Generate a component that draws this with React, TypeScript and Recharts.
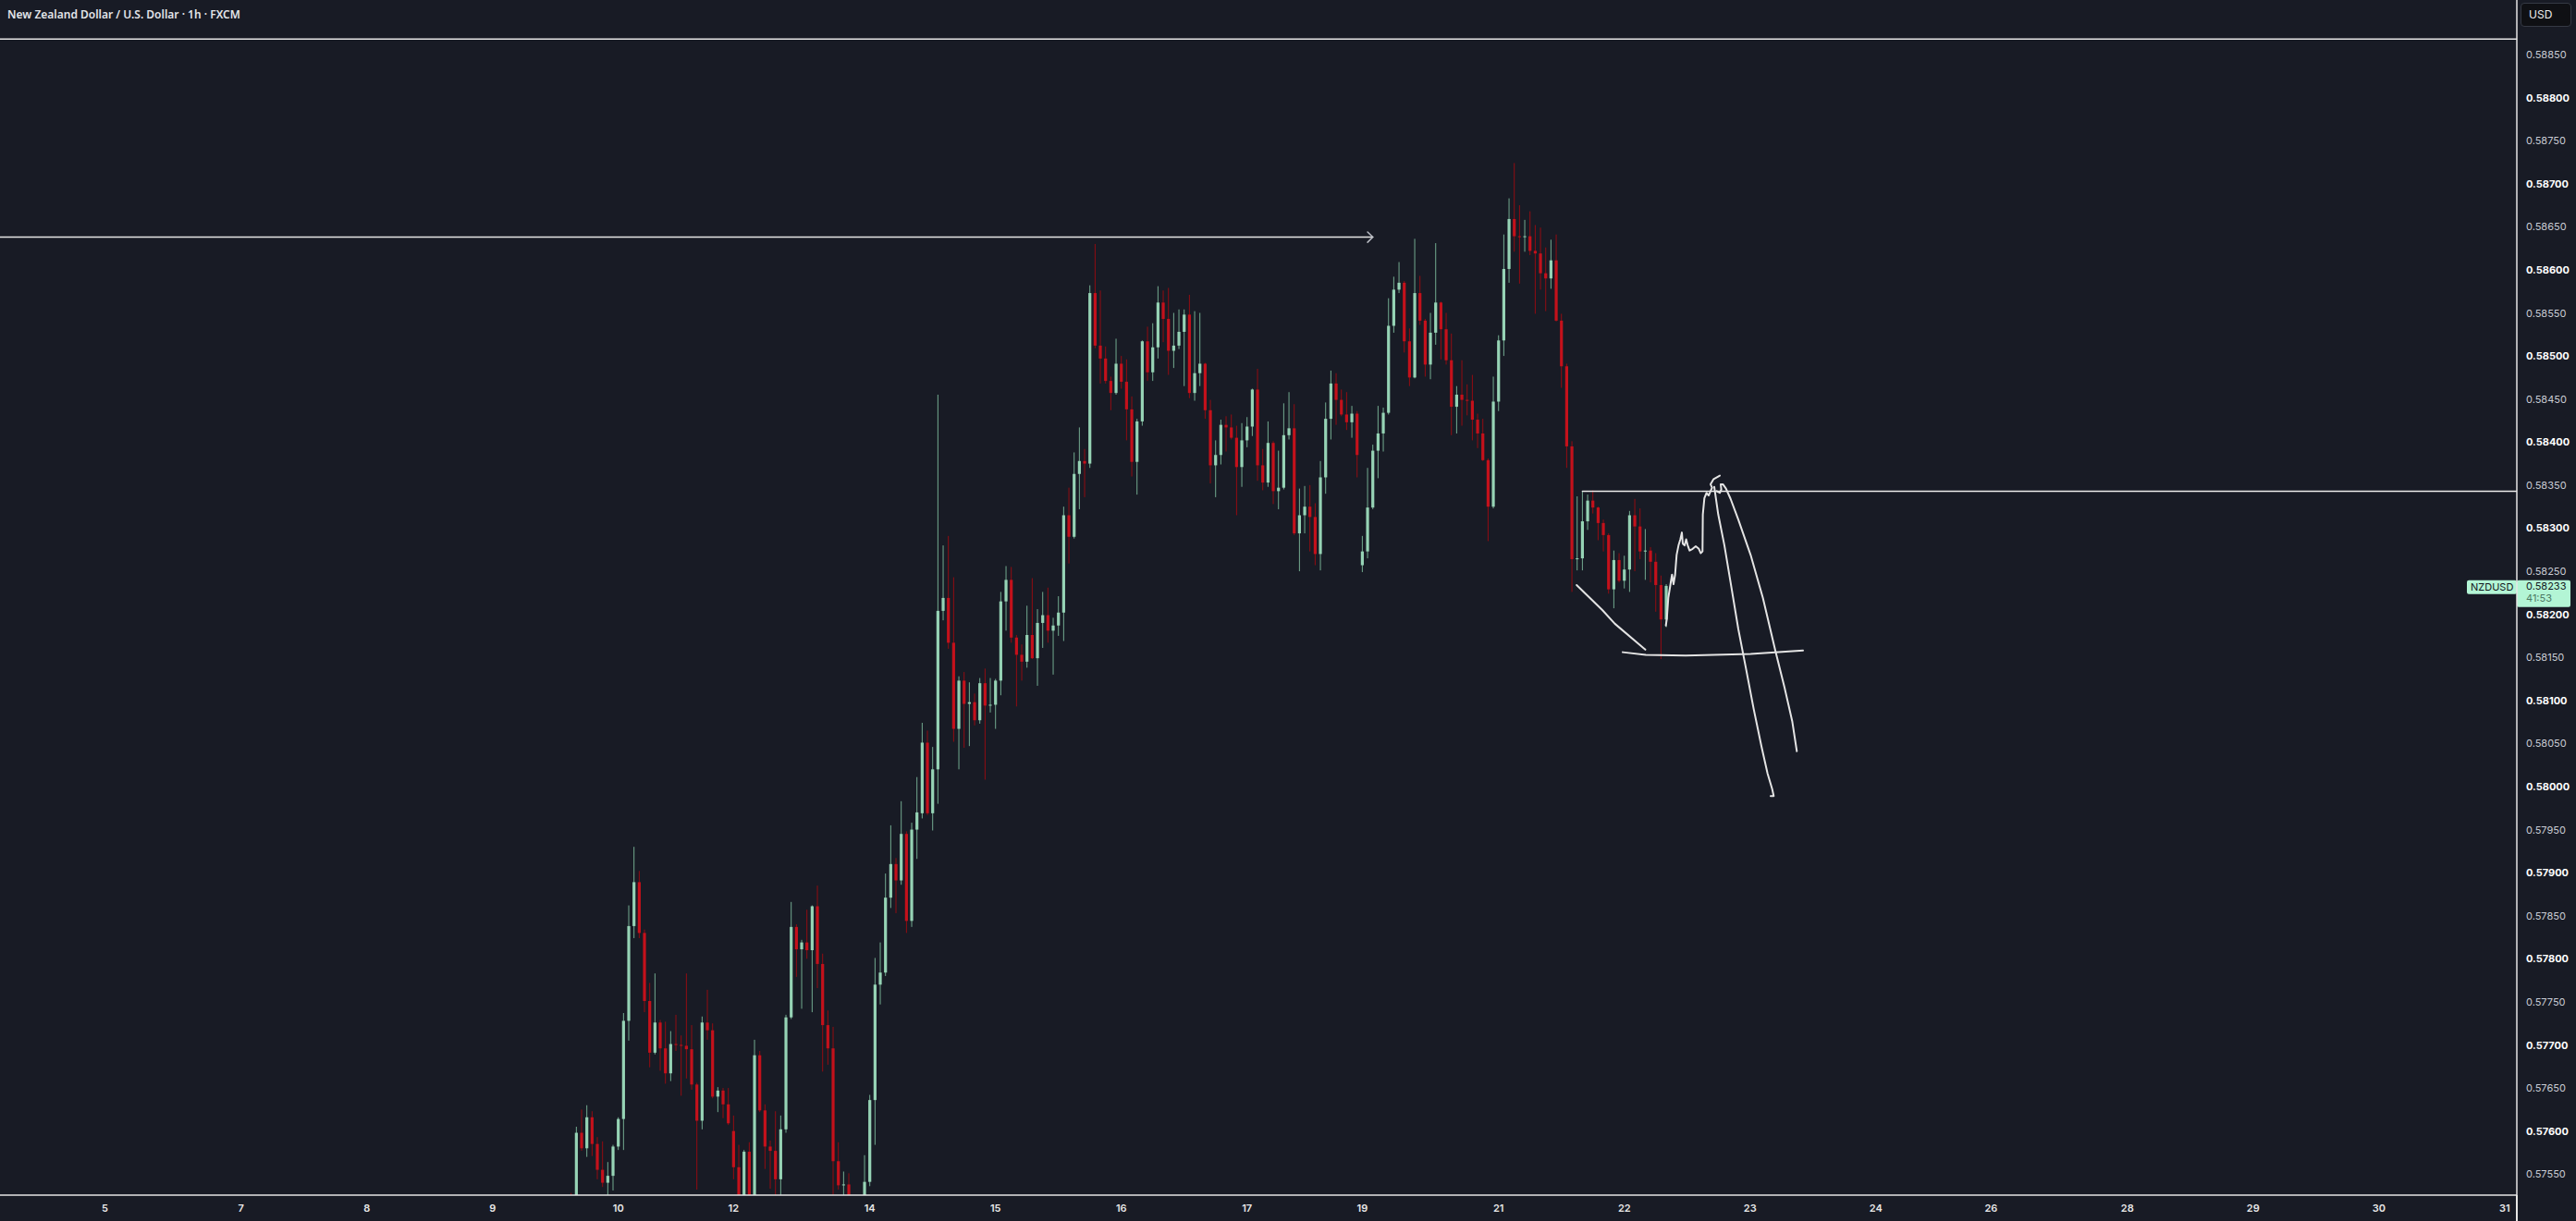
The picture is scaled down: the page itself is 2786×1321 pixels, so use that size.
import { ComposedChart, Bar, Line, XAxis, YAxis, ReferenceLine } from "recharts";

// NZDUSD 1h candles, first visible bar index (bar slot counted from the left edge)
const firstBar = 109;

const opens = [
  0.57522, 0.57505, 0.57598, 0.5758, 0.57616, 0.57585, 0.57555, 0.5754, 0.57548, 0.57582,
  0.57614, 0.57728, 0.57838, 0.57889, 0.5783, 0.57751, 0.57691, 0.57726, 0.57696, 0.57667,
  0.57701, 0.577, 0.57699, 0.57695, 0.57654, 0.57612, 0.57726, 0.57717, 0.5764, 0.57647,
  0.57631, 0.576, 0.57558, 0.57505, 0.57576, 0.57512, 0.57688, 0.57624, 0.57582, 0.57577,
  0.57544, 0.57602, 0.57732, 0.57837, 0.57811, 0.57819, 0.5781, 0.57861, 0.57794, 0.57723,
  0.57696, 0.57565, 0.57537, 0.57538, 0.57495, 0.57465, 0.57505, 0.57541, 0.57636, 0.5777,
  0.57784, 0.57871, 0.5791, 0.57891, 0.57945, 0.57844, 0.5795, 0.57969, 0.58051, 0.57969,
  0.5802, 0.58204, 0.58219, 0.58167, 0.58067, 0.58123, 0.58096, 0.58098, 0.58077, 0.5812,
  0.58094, 0.58095, 0.58123, 0.58215, 0.5824, 0.58173, 0.58153, 0.58145, 0.58176, 0.58149,
  0.5819, 0.58199, 0.58181, 0.58187, 0.58202, 0.58315, 0.5829, 0.58363, 0.58378, 0.58375,
  0.58573, 0.58512, 0.58497, 0.58471, 0.58457, 0.58491, 0.5847, 0.58438, 0.58377, 0.58424,
  0.58517, 0.58481, 0.5851, 0.58562, 0.58543, 0.58506, 0.58512, 0.58528, 0.58548, 0.58457,
  0.5848, 0.58491, 0.58437, 0.58373, 0.58385, 0.5842, 0.58417, 0.58405, 0.58371, 0.58402,
  0.58418, 0.58461, 0.58373, 0.58353, 0.58399, 0.58343, 0.58347, 0.58408, 0.58416, 0.58294,
  0.58315, 0.58325, 0.58313, 0.5827, 0.58359, 0.58427, 0.58468, 0.58449, 0.58432, 0.58423,
  0.58433, 0.58257, 0.58273, 0.58324, 0.5839, 0.5841, 0.58434, 0.58535, 0.58577, 0.58585,
  0.58517, 0.58475, 0.58573, 0.58541, 0.5849, 0.58527, 0.58562, 0.58531, 0.58495, 0.58441,
  0.58455, 0.58449, 0.58448, 0.58426, 0.5841, 0.58379, 0.58325, 0.58447, 0.58518, 0.58601,
  0.58659, 0.58639, 0.58638, 0.58639, 0.58622, 0.58619, 0.58596, 0.5859, 0.58611, 0.58541,
  0.58488, 0.58395, 0.58264, 0.58265, 0.58308, 0.58332, 0.58324, 0.58306, 0.58292, 0.58229,
  0.58263, 0.58239, 0.58252, 0.58315, 0.58302, 0.58273, 0.58274, 0.58261, 0.58234, 0.58194,
];

const highs = [
  0.57528, 0.57605, 0.57625, 0.5763, 0.57623, 0.57593, 0.57588, 0.57564, 0.57584, 0.57616,
  0.57737, 0.57862, 0.5793, 0.57902, 0.57834, 0.57772, 0.57783, 0.57729, 0.57727, 0.57716,
  0.57735, 0.57711, 0.57783, 0.57723, 0.57656, 0.57733, 0.57764, 0.57725, 0.57651, 0.5765,
  0.5765, 0.57618, 0.57584, 0.57578, 0.57587, 0.57706, 0.57693, 0.57631, 0.57589, 0.57623,
  0.57618, 0.57735, 0.57866, 0.5784, 0.57822, 0.57857, 0.57862, 0.57885, 0.57806, 0.5774,
  0.57721, 0.57587, 0.57553, 0.57551, 0.5751, 0.57512, 0.57572, 0.57642, 0.57801, 0.57819,
  0.57899, 0.57955, 0.57917, 0.57983, 0.57948, 0.57958, 0.58011, 0.58074, 0.58065, 0.58046,
  0.58455, 0.5828, 0.58291, 0.58243, 0.58128, 0.58133, 0.58121, 0.58108, 0.58126, 0.58137,
  0.58126, 0.58125, 0.58226, 0.58256, 0.58255, 0.58176, 0.58165, 0.5821, 0.58242, 0.58206,
  0.58226, 0.58231, 0.58196, 0.58221, 0.58325, 0.58347, 0.58388, 0.58417, 0.58392, 0.58582,
  0.5863, 0.58576, 0.58511, 0.58476, 0.5852, 0.585, 0.58496, 0.58453, 0.58427, 0.58518,
  0.58534, 0.58538, 0.58581, 0.58576, 0.58579, 0.5855, 0.58554, 0.58554, 0.58571, 0.58552,
  0.5855, 0.58492, 0.58449, 0.58402, 0.58426, 0.5843, 0.58432, 0.58419, 0.58422, 0.58429,
  0.58462, 0.58485, 0.58392, 0.58424, 0.58401, 0.5839, 0.58445, 0.58458, 0.58444, 0.58346,
  0.58349, 0.5835, 0.58329, 0.58378, 0.58446, 0.58483, 0.5848, 0.58461, 0.58458, 0.58442,
  0.58436, 0.58291, 0.5837, 0.58397, 0.58442, 0.5844, 0.58567, 0.58592, 0.58609, 0.58587,
  0.58532, 0.58636, 0.58593, 0.58543, 0.5855, 0.58631, 0.58563, 0.5855, 0.58526, 0.58465,
  0.58495, 0.58467, 0.58478, 0.58433, 0.58427, 0.58381, 0.58476, 0.58524, 0.58641, 0.58683,
  0.58724, 0.58675, 0.58658, 0.58668, 0.58652, 0.58649, 0.58626, 0.58635, 0.58641, 0.58549,
  0.58491, 0.58401, 0.58337, 0.58343, 0.58339, 0.58344, 0.58325, 0.5831, 0.58294, 0.58274,
  0.58271, 0.58268, 0.5832, 0.58334, 0.58323, 0.58299, 0.58278, 0.58271, 0.58245, 0.58235,
];

const lows = [
  0.57495, 0.5749, 0.57577, 0.5757, 0.57571, 0.57544, 0.57535, 0.5752, 0.57531, 0.57578,
  0.57578, 0.57705, 0.57824, 0.57824, 0.57738, 0.57674, 0.57689, 0.5767, 0.57655, 0.57658,
  0.57693, 0.57641, 0.57661, 0.57648, 0.57532, 0.57602, 0.57706, 0.57638, 0.57622, 0.57615,
  0.57607, 0.57544, 0.57495, 0.5749, 0.57498, 0.57505, 0.57622, 0.57556, 0.57533, 0.57515,
  0.57518, 0.57598, 0.5773, 0.57779, 0.57742, 0.578, 0.57738, 0.57766, 0.57669, 0.57677,
  0.57515, 0.57532, 0.57515, 0.5748, 0.5745, 0.57455, 0.57495, 0.57536, 0.57584, 0.57747,
  0.5778, 0.57859, 0.57853, 0.57886, 0.5783, 0.57837, 0.57916, 0.57963, 0.57967, 0.57949,
  0.5798, 0.58193, 0.5816, 0.58052, 0.5802, 0.58045, 0.58047, 0.58071, 0.58073, 0.58008,
  0.58086, 0.58067, 0.58106, 0.58181, 0.58167, 0.58093, 0.58123, 0.58138, 0.58148, 0.58117,
  0.58161, 0.58167, 0.5813, 0.58175, 0.58169, 0.58259, 0.58288, 0.58322, 0.58336, 0.5837,
  0.58509, 0.58468, 0.58468, 0.58437, 0.58455, 0.58462, 0.58402, 0.5836, 0.58339, 0.58419,
  0.58471, 0.58471, 0.58497, 0.58516, 0.58478, 0.58486, 0.58508, 0.58465, 0.58451, 0.58448,
  0.58465, 0.58427, 0.58352, 0.58336, 0.58374, 0.58389, 0.58403, 0.58315, 0.58348, 0.58394,
  0.58407, 0.58355, 0.58344, 0.58348, 0.58328, 0.58322, 0.58345, 0.58403, 0.58292, 0.5825,
  0.58294, 0.58273, 0.58257, 0.58251, 0.5834, 0.58403, 0.5842, 0.5843, 0.58414, 0.58405,
  0.58359, 0.58249, 0.58265, 0.58322, 0.58358, 0.58389, 0.58432, 0.58527, 0.58573, 0.58504,
  0.58465, 0.58474, 0.58536, 0.58476, 0.58473, 0.58513, 0.58496, 0.5849, 0.58408, 0.5841,
  0.58419, 0.58431, 0.58402, 0.58393, 0.58378, 0.58285, 0.58323, 0.58436, 0.585, 0.58585,
  0.58621, 0.58584, 0.58621, 0.58617, 0.58549, 0.58577, 0.58552, 0.58578, 0.5854, 0.58463,
  0.5837, 0.58226, 0.58251, 0.58251, 0.58298, 0.58317, 0.58286, 0.58273, 0.58224, 0.58207,
  0.58237, 0.5823, 0.58226, 0.5825, 0.58264, 0.5824, 0.58237, 0.58203, 0.58148, 0.58185,
];

const closes = [
  0.5751, 0.57598, 0.5758, 0.57616, 0.57585, 0.57555, 0.5754, 0.57548, 0.57582, 0.57614,
  0.57728, 0.57838, 0.57889, 0.5783, 0.57751, 0.57691, 0.57726, 0.57696, 0.57667, 0.57701,
  0.577, 0.57699, 0.57695, 0.57654, 0.57612, 0.57726, 0.57717, 0.5764, 0.57647, 0.57631,
  0.57609, 0.57558, 0.57505, 0.57576, 0.57512, 0.57688, 0.57624, 0.57582, 0.57577, 0.57544,
  0.57602, 0.57732, 0.57837, 0.57811, 0.57819, 0.5781, 0.57861, 0.57794, 0.57723, 0.57696,
  0.57565, 0.57537, 0.57538, 0.57495, 0.57465, 0.57505, 0.57541, 0.57636, 0.5777, 0.57784,
  0.57871, 0.5791, 0.57891, 0.57945, 0.57844, 0.5795, 0.5797, 0.58051, 0.57969, 0.5802,
  0.58204, 0.58219, 0.58167, 0.58067, 0.58123, 0.58096, 0.58098, 0.58077, 0.5812, 0.58094,
  0.58095, 0.58123, 0.58215, 0.5824, 0.58173, 0.58153, 0.58145, 0.58176, 0.58149, 0.5819,
  0.58199, 0.58181, 0.58187, 0.58202, 0.58315, 0.5829, 0.58363, 0.58378, 0.58375, 0.58573,
  0.58512, 0.58497, 0.58471, 0.58457, 0.58491, 0.5847, 0.58438, 0.58377, 0.58424, 0.58517,
  0.58481, 0.5851, 0.58562, 0.58543, 0.58506, 0.58512, 0.58528, 0.58548, 0.58457, 0.5848,
  0.58491, 0.58437, 0.58373, 0.58385, 0.5842, 0.58417, 0.58405, 0.58371, 0.58402, 0.58418,
  0.58461, 0.58373, 0.58353, 0.58399, 0.58343, 0.58347, 0.58408, 0.58416, 0.58294, 0.58315,
  0.58325, 0.58313, 0.5827, 0.58359, 0.58427, 0.58468, 0.58449, 0.58432, 0.58423, 0.58433,
  0.58385, 0.58273, 0.58324, 0.5839, 0.5841, 0.58434, 0.58535, 0.58577, 0.58585, 0.58517,
  0.58475, 0.58573, 0.58541, 0.5849, 0.58527, 0.58562, 0.58531, 0.58495, 0.58441, 0.58455,
  0.58449, 0.58448, 0.58426, 0.5841, 0.58379, 0.58325, 0.58447, 0.58518, 0.58601, 0.58659,
  0.58639, 0.58638, 0.58639, 0.58622, 0.58619, 0.58596, 0.5859, 0.58611, 0.58541, 0.58488,
  0.58395, 0.58264, 0.58265, 0.58308, 0.58332, 0.58324, 0.58306, 0.58292, 0.58229, 0.58263,
  0.58239, 0.58252, 0.58315, 0.58302, 0.58273, 0.58274, 0.58261, 0.58234, 0.58194, 0.58233,
];

// x axis: bar slot of each day start and its label
const dayTicks = [20, 46, 70, 94, 118, 140, 166, 190, 214, 238, 260, 286, 310, 334, 358, 380, 406, 430, 454, 478];
const dayLabels = ["5", "7", "8", "9", "10", "12", "14", "15", "16", "17", "19", "21", "22", "23", "24", "26", "28", "29", "30", "31"];

const priceTicks = [
  0.5755, 0.576, 0.5765, 0.577, 0.5775, 0.578, 0.5785, 0.579, 0.5795, 0.58, 0.5805, 0.581, 0.5815, 0.582,
  0.5825, 0.583, 0.5835, 0.584, 0.5845, 0.585, 0.5855, 0.586, 0.5865, 0.587, 0.5875, 0.588, 0.5885,
];

const lastPrice = 0.58233;
const countdown = "41:53";
const topLevel = 0.58868;
const rayLevel = 0.58343;

// hand drawings, in (bar slot, price)
const arrowLine = [
  { i: 0, p: 0.58638 },
  { i: 262, p: 0.58638 },
];
const arrowHead = [
  { i: 261, p: 0.58644 },
  { i: 262, p: 0.58638 },
  { i: 261, p: 0.58632 },
];
const rayLine = [
  { i: 302, p: rayLevel },
  { i: 480.3, p: rayLevel },
];
const slopeStroke = [
  { i: 300.9, p: 0.58234 },
  { i: 305.8, p: 0.58205 },
  { i: 308.2, p: 0.58189 },
  { i: 314.0, p: 0.58159 },
];
const supportStroke = [
  { i: 309.7, p: 0.58156 },
  { i: 314.1, p: 0.58153 },
  { i: 321.7, p: 0.58152 },
  { i: 334.1, p: 0.58154 },
  { i: 344.1, p: 0.58158 },
];
const waveStroke = [
  { i: 317.92, p: 0.58187 },
  { i: 318.1, p: 0.58194 },
  { i: 318.39, p: 0.58219 },
  { i: 318.81, p: 0.58235 },
  { i: 319.1, p: 0.58246 },
  { i: 319.39, p: 0.58235 },
  { i: 319.69, p: 0.58246 },
  { i: 319.98, p: 0.58269 },
  { i: 320.34, p: 0.5828 },
  { i: 320.69, p: 0.58287 },
  { i: 320.98, p: 0.58295 },
  { i: 321.16, p: 0.58282 },
  { i: 321.51, p: 0.5828 },
  { i: 321.8, p: 0.58287 },
  { i: 322.1, p: 0.5828 },
  { i: 322.45, p: 0.58274 },
  { i: 323.04, p: 0.58276 },
  { i: 323.63, p: 0.58279 },
  { i: 324.22, p: 0.58276 },
  { i: 324.57, p: 0.58271 },
  { i: 324.92, p: 0.58273 },
  { i: 324.98, p: 0.58316 },
  { i: 325.28, p: 0.58335 },
  { i: 325.69, p: 0.58341 },
  { i: 326.1, p: 0.58338 },
  { i: 326.45, p: 0.58343 },
  { i: 326.75, p: 0.58347 },
  { i: 326.45, p: 0.58351 },
  { i: 327.04, p: 0.58357 },
  { i: 328.22, p: 0.58361 },
];
const leftDrop = [
  { i: 327.16, p: 0.58348 },
  { i: 327.92, p: 0.58316 },
  { i: 329.1, p: 0.5828 },
  { i: 330.28, p: 0.58237 },
  { i: 331.75, p: 0.58183 },
  { i: 333.22, p: 0.58137 },
  { i: 334.69, p: 0.5809 },
  { i: 336.16, p: 0.58047 },
  { i: 337.34, p: 0.58015 },
  { i: 338.22, p: 0.57997 },
  { i: 338.51, p: 0.57989 },
  { i: 337.92, p: 0.57989 },
];
const rightDrop = [
  { i: 327.63, p: 0.58343 },
  { i: 328.22, p: 0.58341 },
  { i: 328.51, p: 0.58345 },
  { i: 328.39, p: 0.58351 },
  { i: 328.81, p: 0.58351 },
  { i: 329.4, p: 0.58346 },
  { i: 330.28, p: 0.58334 },
  { i: 331.75, p: 0.5831 },
  { i: 334.1, p: 0.58269 },
  { i: 336.45, p: 0.58219 },
  { i: 338.81, p: 0.58158 },
  { i: 340.57, p: 0.58115 },
  { i: 342.04, p: 0.58076 },
  { i: 342.92, p: 0.58041 },
];

const candles = opens.map((o, k) => ({
  i: firstBar + k,
  open: o,
  high: highs[k],
  low: lows[k],
  close: closes[k],
}));

const BG = "#181b25";
const UP_BODY = "#96d3b5";
const UP_WICK = "#73ab90";
const DOWN_BODY = "#c4111b";
const DOWN_WICK = "#930c12";
const PEN = "#e4e4e4";
const FONT = "Inter, Roboto, sans-serif";

const Candle = (props: any) => {
  const { x, y, width, height, payload } = props;
  if (x == null || y == null) return null;
  const { open, high, low, close } = payload;
  const top = height >= 0 ? y : y + height;
  const h = Math.abs(height);
  const k = h / (high - low);
  const up = close >= open;
  const bodyTop = top + (high - Math.max(open, close)) * k;
  const bodyBot = top + (high - Math.min(open, close)) * k;
  const cx = x + width / 2;
  return (
    <g>
      <line x1={cx} x2={cx} y1={top} y2={top + h} stroke={up ? UP_WICK : DOWN_WICK} strokeWidth={1} />
      <rect
        x={cx - 1.6}
        y={bodyTop}
        width={3.2}
        height={Math.max(bodyBot - bodyTop, 1)}
        fill={up ? UP_BODY : DOWN_BODY}
      />
    </g>
  );
};

const PriceTick = (props: any) => {
  const { x, y, payload } = props;
  const v: number = payload.value;
  const major = Math.round(v * 100000) % 100 === 0;
  return (
    <text
      x={x}
      y={y}
      dy={4}
      textAnchor="start"
      fontFamily={FONT}
      fontSize={11}
      fontWeight={major ? 700 : 400}
      fill={major ? "#ffffff" : "#c9ccd4"}
    >
      {v.toFixed(5)}
    </text>
  );
};

const DayTick = (props: any) => {
  const { x, y, payload } = props;
  const idx = dayTicks.indexOf(payload.value);
  return (
    <text x={x} y={y} dy={18} textAnchor="middle" fontFamily={FONT} fontSize={11} fontWeight={600} fill="#e8e8e8">
      {dayLabels[idx]}
    </text>
  );
};

const LastPriceTag = (props: any) => {
  const vb = props.viewBox;
  if (!vb) return null;
  const right = vb.x + vb.width;
  const cy = vb.y;
  return (
    <g fontFamily={FONT}>
      <rect x={right - 54} y={cy - 6} width={54} height={15} rx={2} fill="#b3f5d5" />
      <text x={right - 50} y={cy + 5.5} fontSize={11} fill="#131722">
        NZDUSD
      </text>
      <rect x={right} y={cy - 6} width={58} height={29} rx={2} fill="#b3f5d5" />
      <text x={right + 10} y={cy + 4} fontSize={11} fill="#131722">
        {lastPrice.toFixed(5)}
      </text>
      <text x={right + 10} y={cy + 17} fontSize={11} fill="#4d7a64">
        {countdown}
      </text>
    </g>
  );
};

const pen = (data: { i: number; p: number }[], w = 2, color = PEN) => (
  <Line
    data={data}
    dataKey="p"
    type="linear"
    stroke={color}
    strokeWidth={w}
    strokeLinecap="round"
    strokeLinejoin="round"
    dot={false}
    activeDot={false}
    isAnimationActive={false}
  />
);

export default function App() {
  return (
    <div style={{ position: "relative", width: 2786, height: 1321, background: BG, overflow: "hidden" }}>
      <style>{`body{margin:0;background:${BG};}`}</style>
      <ComposedChart width={2786} height={1321} data={candles} margin={{ top: 0, right: 0, bottom: 0, left: 0 }}>
        <XAxis
          dataKey="i"
          type="number"
          domain={[0, 480.33]}
          ticks={dayTicks}
          interval={0}
          allowDataOverflow
          height={28}
          tickSize={0}
          tickMargin={0}
          axisLine={{ stroke: "#e6e6e6", strokeWidth: 1.5 }}
          tickLine={false}
          tick={<DayTick />}
        />
        <YAxis
          orientation="right"
          type="number"
          domain={[0.575256, 0.589133]}
          ticks={priceTicks}
          interval={0}
          allowDataOverflow
          width={64}
          tickSize={0}
          tickMargin={10}
          axisLine={{ stroke: "#e6e6e6", strokeWidth: 1.5 }}
          tickLine={false}
          tick={<PriceTick />}
        />
        <ReferenceLine y={topLevel} stroke="#e6e6e6" strokeWidth={1.5} />
        <Bar
          dataKey={(d: any) => [d.low, d.high]}
          barSize={3}
          shape={<Candle />}
          isAnimationActive={false}
        />
        {pen(arrowLine, 1.5, "#e6e6e6")}
        {pen(arrowHead, 1.5, "#b9bcc4")}
        {pen(rayLine, 1.5, "#ececec")}
        {pen(slopeStroke)}
        {pen(supportStroke)}
        {pen(waveStroke)}
        {pen(leftDrop)}
        {pen(rightDrop)}
        <ReferenceLine y={lastPrice} stroke="none" label={<LastPriceTag />} />
      </ComposedChart>
      <div
        style={{
          position: "absolute",
          left: 8,
          top: 8,
          fontFamily: "'Noto Sans', sans-serif",
          fontSize: 12,
          fontWeight: 600,
          color: "#e3e5ea",
          lineHeight: "16px",
          whiteSpace: "nowrap",
        }}
      >
        New Zealand Dollar / U.S. Dollar · 1h · FXCM
      </div>
      <div
        style={{
          position: "absolute",
          left: 2726,
          top: 3,
          width: 55,
          height: 26,
          boxSizing: "border-box",
          border: "1px solid #353944",
          borderRadius: 4,
          background: "#0f1014",
          color: "#eeeeee",
          fontFamily: FONT,
          fontSize: 12,
          lineHeight: "24px",
          paddingLeft: 8,
        }}
      >
        USD
      </div>
      <div style={{ position: "absolute", left: 2721, top: 1293, width: 1.5, height: 28, background: "#e6e6e6" }} />
    </div>
  );
}
